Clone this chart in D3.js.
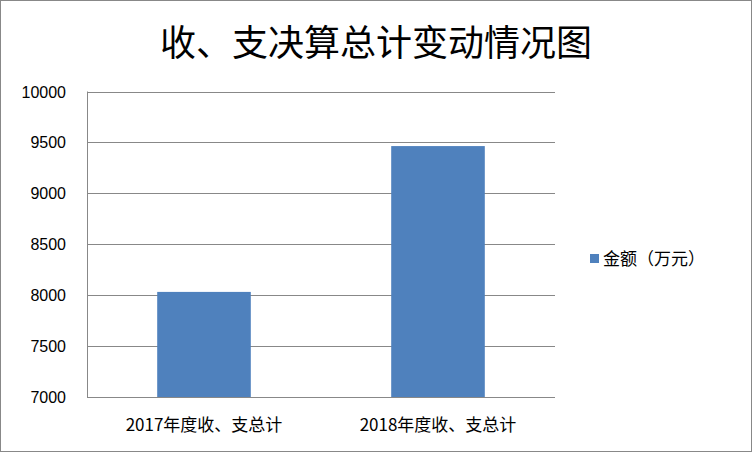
<!DOCTYPE html><html><head><meta charset="utf-8"><script src="https://cdn.jsdelivr.net/npm/d3@7"></script>
<style>body{margin:0;background:#fff}</style></head><body><svg id="c" width="752" height="452"></svg>
<script>
const categories=["2017年度收、支总计","2018年度收、支总计"];
const values=[8032,9464];
const yTicks=[7000,7500,8000,8500,9000,9500,10000];
const seriesName="金额（万元）";
const svg=d3.select("#c");
const font="'Noto Sans CJK SC','Noto Sans',sans-serif";
svg.append("rect").attr("x",0.5).attr("y",0.5).attr("width",751).attr("height",451).attr("fill","#fff").attr("stroke","#888");
svg.append("text").attr("x",376).attr("y",56).attr("text-anchor","middle").attr("font-family",font).attr("font-size",36).text("收、支决算总计变动情况图");
const x=d3.scaleBand().domain(categories).range([87,555]).paddingInner(0.6).paddingOuter(0.3);
const y=d3.scaleLinear().domain([7000,10000]).range([397,91.5]);
const g=svg.append("g");
g.selectAll(".grid").data(yTicks).join("line").attr("x1",87).attr("x2",555).attr("y1",d=>Math.round(y(d))+0.5).attr("y2",d=>Math.round(y(d))+0.5).attr("stroke","#888");
g.selectAll(".bar").data(values).join("rect").attr("x",(d,i)=>x(categories[i])).attr("width",x.bandwidth()).attr("y",d=>y(d)).attr("height",d=>y(7000)-y(d)).attr("fill","#4f81bd");
g.append("line").attr("x1",87.5).attr("x2",87.5).attr("y1",91.5).attr("y2",397).attr("stroke","#888");
g.selectAll(".yt").data(yTicks).join("text").attr("x",66).attr("y",d=>y(d)+6).attr("text-anchor","end").attr("font-family","'Liberation Sans',Arial,sans-serif").attr("font-size",16).text(d=>d);
g.selectAll(".xt").data(categories).join("text").attr("x",d=>x(d)+x.bandwidth()/2).attr("y",431).attr("text-anchor","middle").attr("font-family",font).attr("font-size",17).text(d=>d);
svg.append("rect").attr("x",590).attr("y",254).attr("width",9).attr("height",9).attr("fill","#4f81bd");
svg.append("text").attr("x",603).attr("y",265).attr("font-family",font).attr("font-size",17).text(seriesName);
</script></body></html>
